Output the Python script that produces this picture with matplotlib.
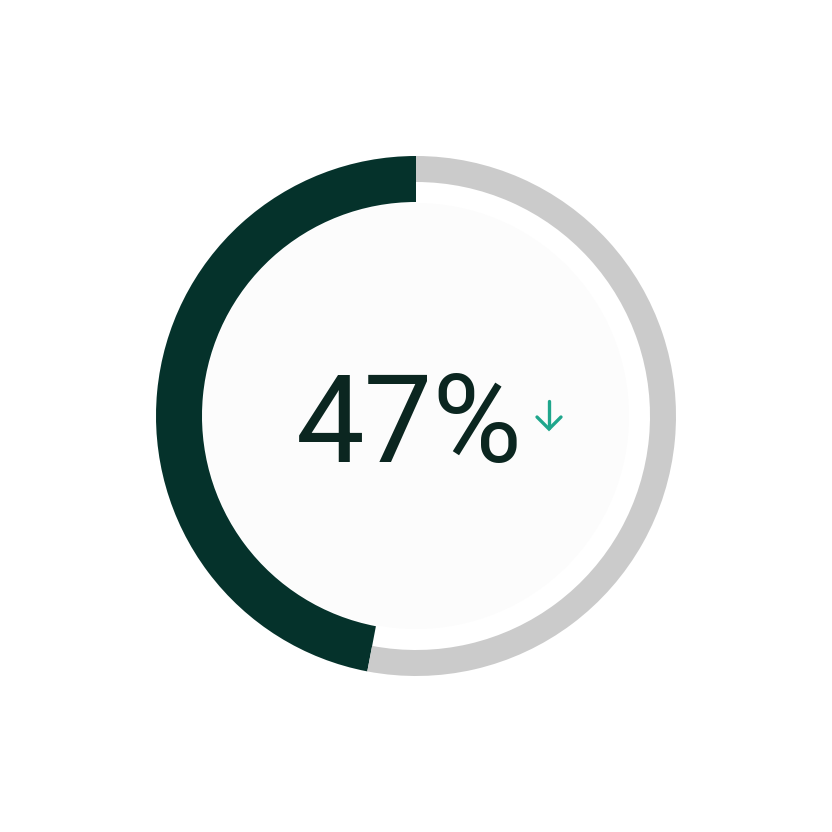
import matplotlib
matplotlib.use("Agg")
import matplotlib.pyplot as plt
from matplotlib.patches import Wedge, Circle

# ---- data ----
value = 47          # percent shown on the gauge
trend = "down"      # direction of the change marker

# ---- style ----
DARK = "#05322b"
TRACK = "#cbcbcb"
TEAL = "#1fa68c"
TEXT = "#0b2620"

fig = plt.figure(figsize=(8.32, 8.32), dpi=100)
ax = fig.add_axes([0, 0, 1, 1])
ax.set_xlim(0, 832)
ax.set_ylim(0, 832)
ax.set_aspect("equal")
ax.axis("off")

cx, cy = 416, 416
r_out = 260

# inner disc
ax.add_patch(Circle((cx, cy), 213, facecolor="#fcfcfc", edgecolor="none", zorder=1))

# progress arc, counter-clockwise from the top
end = 90 + 360 * value / 100
ax.add_patch(Wedge((cx, cy), r_out, 90, end, width=46, facecolor=DARK,
                   edgecolor="none", zorder=2))
ax.add_patch(Wedge((cx, cy), r_out, end, 450, width=26, facecolor=TRACK,
                   edgecolor="none", zorder=2))

# value label (baseline sits on the bottom of the digits)
ax.text(409, 370, f"{value}%", ha="center", va="baseline", fontsize=88,
        family="Roboto", fontweight="normal", color=TEXT, zorder=3)

# trend arrow
ax_x, top, bot = 549, 431, 403
if trend == "down":
    ax.plot([ax_x, ax_x], [top, bot + 1], color=TEAL, lw=2.4,
            solid_capstyle="round", zorder=3)
    ax.plot([ax_x - 12, ax_x, ax_x + 12], [bot + 12, bot, bot + 12],
            color=TEAL, lw=2.4, solid_capstyle="round",
            solid_joinstyle="miter", zorder=3)

fig.savefig("out.png", dpi=100, facecolor="white")
